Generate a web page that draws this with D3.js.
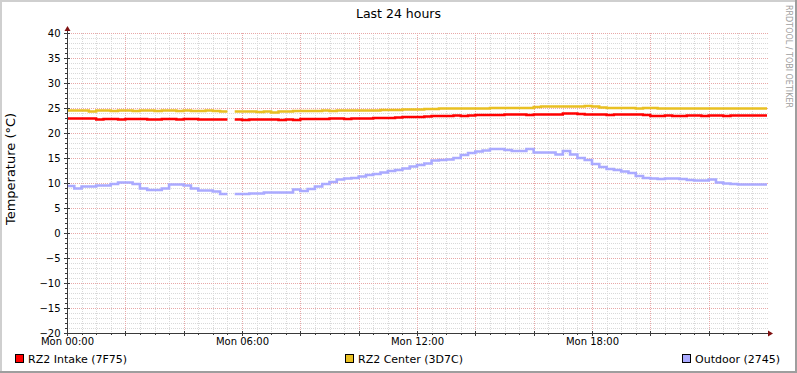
<!DOCTYPE html>
<html>
<head>
<meta charset="utf-8">
<script src="https://cdn.jsdelivr.net/npm/d3@7"></script>
<style>
  html, body { margin: 0; padding: 0; background: #fff; }
  svg { display: block; font-family: "DejaVu Sans", sans-serif; }
</style>
</head>
<body>
<svg id="chart" width="797" height="373"></svg>
<script>
// ---- Data (15-minute steps starting Mon 00:00) ----
const title = "Last 24 hours";
const yAxisTitle = "Temperature (°C)";
const watermark = "RRDTOOL / TOBI OETIKER";
const stepMinutes = 15;
const seriesNames = ["RZ2 Intake (7F75)", "RZ2 Center (3D7C)", "Outdoor (2745)"];
const seriesColors = ["#FF0000", "#E9C022", "#AAAAFF"];
const yTicks = [-20, -15, -10, -5, 0, 5, 10, 15, 20, 25, 30, 35, 40];

const intake = [
  22.9,22.9,22.9,22.9, 22.7,22.8,22.8,22.7, 22.8,22.8,22.8,22.7,
  22.7,22.8,22.8,22.7, 22.8,22.8,22.7,22.7, 22.7,22.7, null,
  22.7,22.6,22.7,22.7,22.7,22.7,22.6,22.7,22.6,
  22.8,22.8,22.8,22.8,22.9,22.9,22.8,
  22.9,22.9,22.9,23.0,23.0,23.0,23.1,
  23.2,23.2,23.2,23.3,
  23.4,23.4,23.4,23.5,23.4,
  23.5,23.6,23.6,23.6,23.6,
  23.7,23.7,23.7,23.6,23.7,23.7,23.7,23.7,
  23.9,23.9,23.8,
  23.7,23.7,23.7,23.6,23.7,23.7,23.7,23.7,23.6,
  23.4,23.4,23.5,23.4,
  23.4,23.5,23.5,23.4,23.5,23.5,23.4,23.5,23.5,23.5,23.5,23.5
];

const center = [
  24.5,24.5,24.5,24.3, 24.5,24.5,24.4,24.5, 24.5,24.4,24.5,24.5,
  24.4,24.5,24.5,24.4, 24.5,24.4,24.4,24.5, 24.4,24.3, null,
  24.3,24.3,24.3,24.2,24.3, 24.1, 24.3,24.3,24.4,
  24.4,24.4,24.4,24.5,24.4,24.5,24.5,24.5,
  24.5,24.5,24.5,24.6,24.6,24.6,
  24.7,24.7,24.7,24.8,
  24.8,24.9,24.9,24.9,24.9,24.9,24.9,24.9,
  25.0,25.0,25.0,25.0,25.0,25.0,
  25.2,25.3,25.3,25.3,25.3,25.3,25.3,25.4,25.3,
  25.1,25.0,25.0,25.0,25.0,24.9,25.0,25.0,
  24.9,24.9,24.9,24.9,24.9,24.9,24.9,24.9,24.9,24.9,24.9,24.9,24.9,24.9,24.9
];

const outdoor = [
  9.4,8.9,9.3,9.3, 9.5,9.5,9.8,10.1, 10.1,9.8,8.9,8.6,
  8.6,8.9,9.7,9.7, 9.5,8.9,8.5,8.5, 8.3,7.8, null,
  7.8,7.8,7.9,7.9,8.1,8.1,8.1,8.1,8.7,
  8.4,8.8,9.3,9.8,10.2,10.7,10.9,11.0,
  11.3,11.6,11.8,12.1,12.4,12.6,12.9,13.3,
  13.6,13.9,14.5,14.6,14.7,15.0,15.6,16.0,
  16.3,16.5,16.8,16.8,16.6,16.4,16.4,16.8,
  16.1,16.1,16.1,15.7,16.4,15.7,15.0,14.6,
  13.8,13.2,12.8,12.6,12.3,12.0,11.4,11.0,
  10.9,10.8,10.9,10.9,10.8,10.6,10.5,10.5,
  10.7,10.1,9.9,9.8,9.7,9.7,9.7,9.7
];

// ---- Layout ----
const W = 797, H = 373;
const plot = { left: 67, right: 767, top: 33, bottom: 333 };
const t0 = new Date(Date.UTC(2024, 0, 1, 0, 0)); // a Monday
const t1 = new Date(Date.UTC(2024, 0, 2, 0, 0));

const svg = d3.select("#chart");
const x = d3.scaleUtc().domain([t0, t1]).range([plot.left, plot.right]);
const y = d3.scaleLinear().domain([-20, 40]).range([plot.bottom, plot.top]);

// background + shaded border
svg.append("rect").attr("width", W).attr("height", H).attr("fill", "#FFFFFF");
svg.append("rect").attr("x", 0).attr("y", 0).attr("width", W).attr("height", 2).attr("fill", "#CFCFCF");
svg.append("rect").attr("x", 0).attr("y", 0).attr("width", 2).attr("height", H).attr("fill", "#CFCFCF");
svg.append("rect").attr("x", 0).attr("y", H - 2).attr("width", W).attr("height", 2).attr("fill", "#9E9E9E");
svg.append("rect").attr("x", W - 2).attr("y", 0).attr("width", 2).attr("height", H).attr("fill", "#9E9E9E");

// grid
const grid = svg.append("g");
const minorGrid = "#D9D9D9", majorGrid = "#E8A8A8";
const minorY = d3.range(-19, 41, 1).filter(v => v % 5 !== 0);
const majorY = yTicks.filter(v => v > -20);
grid.selectAll(".hmin").data(minorY).join("line")
  .attr("x1", plot.left).attr("x2", plot.right + 1)
  .attr("y1", d => Math.round(y(d)) + 0.5).attr("y2", d => Math.round(y(d)) + 0.5)
  .attr("stroke", minorGrid).attr("stroke-dasharray", "1,1");
const minorX = d3.utcMinute.every(30).range(t0, t1).filter(d => d.getUTCMinutes() !== 0 || d.getUTCHours() % 2 !== 0).filter(d => +d !== +t0);
const majorX = d3.utcHour.every(2).range(t0, t1).filter(d => +d !== +t0);
grid.selectAll(".vmin").data(minorX).join("line")
  .attr("x1", d => Math.round(x(d)) + 0.5).attr("x2", d => Math.round(x(d)) + 0.5)
  .attr("y1", plot.top).attr("y2", plot.bottom)
  .attr("stroke", minorGrid).attr("stroke-dasharray", "1,1");
grid.selectAll(".hmaj").data(majorY).join("line")
  .attr("x1", plot.left).attr("x2", plot.right + 1)
  .attr("y1", d => Math.round(y(d)) + 0.5).attr("y2", d => Math.round(y(d)) + 0.5)
  .attr("stroke", majorGrid).attr("stroke-dasharray", "1,1");
grid.selectAll(".vmaj").data(majorX).join("line")
  .attr("x1", d => Math.round(x(d)) + 0.5).attr("x2", d => Math.round(x(d)) + 0.5)
  .attr("y1", plot.top).attr("y2", plot.bottom)
  .attr("stroke", majorGrid).attr("stroke-dasharray", "1,1");

// series as steps
function stepPoints(vals) {
  const pts = [];
  vals.forEach((v, i) => {
    const a = d3.utcMinute.offset(t0, i * stepMinutes);
    const b = d3.utcMinute.offset(t0, (i + 1) * stepMinutes);
    if (v == null) { pts.push({ t: a, v: null }); return; }
    pts.push({ t: a, v }); pts.push({ t: b, v });
  });
  return pts;
}
const line = d3.line().defined(d => d.v != null).x(d => x(d.t)).y(d => y(d.v));
[intake, center, outdoor].forEach((vals, k) => {
  svg.append("path").datum(stepPoints(vals))
    .attr("fill", "none").attr("stroke", seriesColors[k])
    .attr("stroke-width", k === 2 ? 2.6 : 2.4)
    .attr("d", line);
});

// axes
const axisColor = "#3A3A3A", arrowColor = "#7F1010";
const yAxis = d3.axisLeft(y).tickValues(yTicks).tickSize(0).tickPadding(7).tickFormat(d3.format("d"));
const gy = svg.append("g").attr("transform", `translate(${plot.left + 0.5},0)`).call(yAxis);
gy.select(".domain").remove();
gy.selectAll("text").attr("font-size", 10).attr("fill", "#000").attr("font-family", "DejaVu Sans");

const xTicks = d3.utcHour.every(6).range(t0, t1);
const xAxis = d3.axisBottom(x).tickValues(xTicks).tickSize(0).tickPadding(4).tickFormat(d3.utcFormat("%a %H:%M"));
const gx = svg.append("g").attr("transform", `translate(0,${plot.bottom + 0.5})`).call(xAxis);
gx.select(".domain").remove();
gx.selectAll("text").attr("font-size", 10).attr("fill", "#000").attr("font-family", "DejaVu Sans");

// tick marks on axes
const ticksG = svg.append("g").attr("stroke", axisColor);
ticksG.selectAll(".ty").data(d3.range(-20, 41, 1)).join("line")
  .attr("x1", d => d % 5 === 0 ? plot.left - 3 : plot.left - 2).attr("x2", d => d % 5 === 0 ? plot.left + 3 : plot.left)
  .attr("y1", d => Math.round(y(d)) + 0.5).attr("y2", d => Math.round(y(d)) + 0.5);
ticksG.selectAll(".tx").data(d3.utcMinute.every(30).range(t0, t1)).join("line")
  .attr("x1", d => Math.round(x(d)) + 0.5).attr("x2", d => Math.round(x(d)) + 0.5)
  .attr("y1", d => d.getUTCMinutes() === 0 && d.getUTCHours() % 2 === 0 ? plot.bottom - 2 : plot.bottom)
  .attr("y2", d => d.getUTCMinutes() === 0 && d.getUTCHours() % 2 === 0 ? plot.bottom + 3 : plot.bottom + 2);

svg.append("line").attr("x1", plot.left + 0.5).attr("x2", plot.left + 0.5)
  .attr("y1", plot.bottom + 3).attr("y2", plot.top - 5).attr("stroke", axisColor);
svg.append("line").attr("x1", plot.left - 3).attr("x2", plot.right + 3)
  .attr("y1", plot.bottom + 0.5).attr("y2", plot.bottom + 0.5).attr("stroke", axisColor);
// arrows
svg.append("path").attr("fill", arrowColor)
  .attr("d", `M${plot.left - 2.5},${plot.top - 2} L${plot.left + 3.5},${plot.top - 2} L${plot.left + 0.5},${plot.top - 7} Z`);
svg.append("path").attr("fill", arrowColor)
  .attr("d", `M${plot.right + 1},${plot.bottom - 2.5} L${plot.right + 1},${plot.bottom + 3.5} L${plot.right + 6},${plot.bottom + 0.5} Z`);

// title
svg.append("text").attr("x", W / 2).attr("y", 18).attr("text-anchor", "middle")
  .attr("font-size", 12.5).attr("fill", "#000").text(title);

// y-axis title
svg.append("text").attr("transform", `translate(15,169) rotate(-90)`).attr("text-anchor", "middle")
  .attr("font-size", 13).attr("fill", "#000").text(yAxisTitle);

// watermark
svg.append("text").attr("transform", `translate(786,5) rotate(90)`).attr("text-anchor", "start")
  .attr("font-size", 8).attr("fill", "#A0A0A0").text(watermark);

// legend
const legendX = [15, 345, 682];
const lg = svg.append("g");
seriesNames.forEach((name, k) => {
  lg.append("rect").attr("x", legendX[k] + 0.5).attr("y", 354.5).attr("width", 8).attr("height", 8)
    .attr("fill", seriesColors[k]).attr("stroke", "#000").attr("stroke-width", 1);
  lg.append("text").attr("x", legendX[k] + 13).attr("y", 363).attr("font-size", 11)
    .attr("fill", "#000").text(name);
});
</script>
</body>
</html>
